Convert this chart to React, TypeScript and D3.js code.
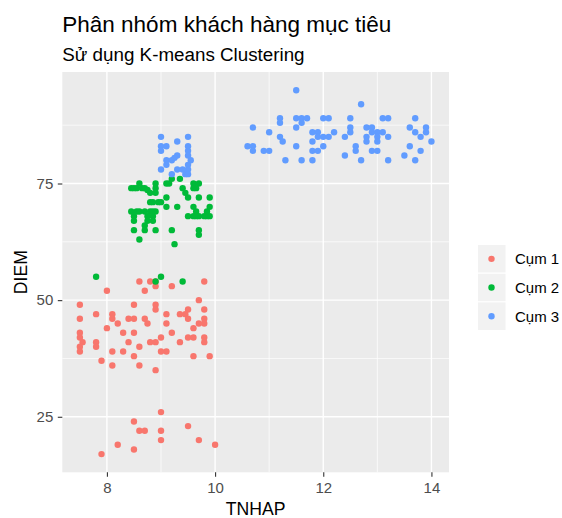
import React, { useEffect, useRef } from "react";
import * as d3 from "d3";

// cluster points: [TNHAP, DIEM]
const cum1: [number, number][] = [
  [9.0, 26], [8.5, 24], [8.6, 22], [8.7, 22], [9.0, 22], [9.5, 23], [9.0, 20], [9.7, 20],
  [10.0, 19], [8.2, 19], [8.5, 18], [7.9, 17],
  [8.6, 54], [8.8, 54], [8.9, 54], [9.8, 54], [8.9, 53], [9.2, 53], [8.0, 52], [8.7, 52],
  [9.7, 50], [7.5, 49], [8.5, 49], [8.9, 49], [8.9, 48], [9.8, 48], [9.5, 48],
  [7.8, 47], [8.1, 47], [9.1, 47], [9.35, 47], [9.45, 47],
  [7.5, 46], [8.1, 46], [8.2, 45], [8.4, 46], [8.5, 46], [8.7, 46], [8.75, 45], [9.1, 45],
  [9.5, 46], [9.8, 46], [9.7, 45], [9.8, 45], [8.0, 44], [9.6, 44],
  [7.5, 43], [7.5, 42], [7.55, 41], [7.5, 40], [7.5, 39], [7.8, 41], [7.8, 40],
  [8.3, 43], [8.5, 43], [9.2, 43], [9.0, 42], [9.5, 42], [9.6, 42], [9.8, 42], [9.8, 41],
  [8.4, 41], [8.8, 41], [8.9, 41], [9.35, 41], [8.6, 40], [8.1, 39], [8.3, 39], [9.0, 39],
  [9.1, 39], [8.5, 38], [9.6, 38], [9.9, 38], [7.9, 37], [8.1, 36], [8.6, 36], [8.9, 35],
];

const cum2: [number, number][] = [
  [7.8, 55], [9.0, 55], [8.9, 54], [9.4, 54],
  [8.6, 75], [8.45, 74], [8.5, 74], [8.55, 74], [8.65, 74], [8.7, 74], [8.75, 73.6],
  [8.9, 75], [8.9, 74], [8.9, 73], [8.8, 73], [9.1, 75], [9.15, 75], [9.2, 76], [9.35, 76],
  [9.4, 74], [9.45, 73], [9.6, 75], [9.7, 75], [9.65, 74], [9.6, 74],
  [9.5, 72], [9.7, 72], [9.9, 72], [8.8, 71], [8.85, 71], [8.95, 71], [9.0, 71], [9.1, 72],
  [9.1, 70], [9.3, 70], [9.6, 70], [9.9, 70],
  [8.45, 69], [8.55, 69], [8.6, 69], [8.7, 69], [8.8, 69], [8.85, 69], [8.9, 69],
  [9.65, 69], [9.85, 69],
  [9.5, 68], [9.6, 68], [9.65, 68], [9.7, 68], [9.8, 68], [9.85, 68], [9.9, 68],
  [8.5, 68], [8.75, 68], [8.85, 68], [8.5, 67], [8.75, 67], [8.85, 67],
  [8.5, 65], [8.7, 66], [8.7, 65], [8.9, 65], [9.2, 65], [9.7, 65], [9.7, 64],
  [8.6, 63], [9.25, 62],
];

const cum3: [number, number][] = [
  [9.0, 85], [9.3, 84], [9.5, 85], [9.0, 83], [9.1, 83], [9.0, 82], [9.5, 83], [9.5, 82],
  [9.5, 81], [9.55, 80], [9.5, 79], [9.5, 78], [9.3, 81], [9.1, 80], [9.2, 80], [9.25, 80.5],
  [9.1, 79], [9.0, 78], [9.2, 77], [9.3, 78], [9.4, 78], [9.45, 77], [9.5, 77],
  [11.5, 95], [12.7, 92],
  [11.2, 89], [11.5, 89], [11.6, 89], [11.7, 89], [12.0, 89], [12.1, 89], [12.5, 89],
  [13.1, 89], [13.2, 89], [13.7, 89], [11.2, 88], [11.6, 88],
  [10.7, 87], [11.5, 87], [12.5, 87], [12.8, 87], [12.9, 87], [13.6, 87], [13.9, 87],
  [11.0, 86], [11.8, 86], [11.9, 86], [12.2, 86], [12.5, 86], [12.9, 86], [13.0, 86],
  [13.1, 86], [13.7, 86], [13.9, 86],
  [11.2, 85], [11.9, 85], [12.0, 85], [12.1, 85], [12.4, 85], [12.8, 85], [13.0, 85],
  [13.2, 85], [13.8, 85],
  [11.25, 84], [11.8, 84], [12.8, 84], [13.0, 84], [14.0, 84],
  [10.6, 83], [10.7, 83], [11.5, 83], [12.0, 83], [12.6, 83], [13.6, 83],
  [10.7, 82], [10.9, 82], [11.0, 82], [11.8, 82], [11.9, 82], [12.6, 82], [12.9, 82],
  [13.0, 82], [13.8, 82],
  [12.4, 81], [13.5, 81],
  [11.3, 80], [11.6, 80], [11.8, 80], [12.7, 80], [13.2, 80], [13.7, 80],
];

const clusterNames = ["Cụm 1", "Cụm 2", "Cụm 3"];
const clusterColors = ["#F8766D", "#00BA38", "#619CFF"];
const xTicks = [8, 10, 12, 14];
const yTicks = [25, 50, 75];

const W = 562, H = 518;
const font = "'Liberation Sans', Arial, sans-serif";

export default function App() {
  const ref = useRef<SVGSVGElement>(null);

  useEffect(() => {
    const svg = d3.select(ref.current);
    svg.selectAll("*").remove();

    const panel = { left: 62.3, right: 449, top: 72, bottom: 472.3 };
    const all = [...cum1, ...cum2, ...cum3];

    // ggplot style 5% expansion
    const expand = (ext: [number, number]) => {
      const pad = (ext[1] - ext[0]) * 0.05;
      return [ext[0] - pad, ext[1] + pad];
    };
    const x = d3.scaleLinear()
      .domain(expand(d3.extent(all, (d) => d[0]) as [number, number]))
      .range([panel.left, panel.right]);
    const y = d3.scaleLinear()
      .domain(expand(d3.extent(all, (d) => d[1]) as [number, number]))
      .range([panel.bottom, panel.top]);

    // panel background
    svg.append("rect")
      .attr("x", panel.left).attr("y", panel.top)
      .attr("width", panel.right - panel.left)
      .attr("height", panel.bottom - panel.top)
      .attr("fill", "#EBEBEB");

    const g = svg.append("g");

    // minor grid (halfway between majors)
    const xMinor = [7, 9, 11, 13].filter((v) => v > x.domain()[0] && v < x.domain()[1]);
    const yMinor = [12.5, 37.5, 62.5, 87.5].filter((v) => v > y.domain()[0] && v < y.domain()[1]);
    g.selectAll(".xminor").data(xMinor).join("line")
      .attr("x1", (d) => x(d)).attr("x2", (d) => x(d))
      .attr("y1", panel.top).attr("y2", panel.bottom)
      .attr("stroke", "#fff").attr("stroke-width", 0.7);
    g.selectAll(".yminor").data(yMinor).join("line")
      .attr("y1", (d) => y(d)).attr("y2", (d) => y(d))
      .attr("x1", panel.left).attr("x2", panel.right)
      .attr("stroke", "#fff").attr("stroke-width", 0.7);

    // major grid
    g.selectAll(".xmajor").data(xTicks).join("line")
      .attr("x1", (d) => x(d)).attr("x2", (d) => x(d))
      .attr("y1", panel.top).attr("y2", panel.bottom)
      .attr("stroke", "#fff").attr("stroke-width", 1.4);
    g.selectAll(".ymajor").data(yTicks).join("line")
      .attr("y1", (d) => y(d)).attr("y2", (d) => y(d))
      .attr("x1", panel.left).attr("x2", panel.right)
      .attr("stroke", "#fff").attr("stroke-width", 1.4);

    // points
    [cum1, cum2, cum3].forEach((pts, i) => {
      svg.append("g").selectAll("circle").data(pts).join("circle")
        .attr("cx", (d) => x(d[0]))
        .attr("cy", (d) => y(d[1]))
        .attr("r", 3.2)
        .attr("fill", clusterColors[i]);
    });

    // x axis
    const xAxis = svg.append("g")
      .attr("transform", `translate(0,${panel.bottom})`)
      .call(d3.axisBottom(x).tickValues(xTicks).tickSize(4.5).tickPadding(3));
    xAxis.select(".domain").remove();
    xAxis.selectAll("line").attr("stroke", "#333333").attr("stroke-width", 1.1);
    xAxis.selectAll("text")
      .attr("fill", "#4D4D4D").style("font-family", font).style("font-size", "15px")
      .attr("dy", "0.75em").attr("y", 9.5);

    // y axis
    const yAxis = svg.append("g")
      .attr("transform", `translate(${panel.left},0)`)
      .call(d3.axisLeft(y).tickValues(yTicks).tickSize(4.5).tickPadding(4.5));
    yAxis.select(".domain").remove();
    yAxis.selectAll("line").attr("stroke", "#333333").attr("stroke-width", 1.1);
    yAxis.selectAll("text")
      .attr("fill", "#4D4D4D").style("font-family", font).style("font-size", "15px");

    // axis titles
    svg.append("text")
      .attr("x", (panel.left + panel.right) / 2).attr("y", 514.5)
      .attr("text-anchor", "middle")
      .style("font-family", font).style("font-size", "17.6px")
      .text("TNHAP");
    svg.append("text")
      .attr("transform", `translate(27,${(panel.top + panel.bottom) / 2}) rotate(-90)`)
      .attr("text-anchor", "middle")
      .style("font-family", font).style("font-size", "17.6px")
      .text("DIEM");

    // title + subtitle
    svg.append("text")
      .attr("x", panel.left).attr("y", 32)
      .style("font-family", font).style("font-size", "22.5px")
      .text("Phân nhóm khách hàng mục tiêu");
    svg.append("text")
      .attr("x", panel.left).attr("y", 61)
      .style("font-family", font).style("font-size", "18.8px")
      .text("Sử dụng K-means Clustering");

    // legend
    const key = 28.7;
    const leg = svg.append("g").attr("transform", `translate(477.5,244.5)`);
    const items = leg.selectAll("g").data(clusterNames).join("g")
      .attr("transform", (_d, i) => `translate(0,${i * key})`);
    items.append("rect")
      .attr("width", 28.5).attr("height", key)
      .attr("fill", "#F2F2F2").attr("stroke", "#fff").attr("stroke-width", 1);
    items.append("circle")
      .attr("cx", 14).attr("cy", key / 2).attr("r", 3.2)
      .attr("fill", (_d, i) => clusterColors[i]);
    items.append("text")
      .attr("x", 37.5).attr("y", key / 2)
      .attr("dy", "0.36em")
      .style("font-family", font).style("font-size", "15px")
      .text((d) => d);
  }, []);

  return (
    <svg ref={ref} width={W} height={H}
      style={{ position: "absolute", left: 0, top: 0, background: "#fff" }} />
  );
}
